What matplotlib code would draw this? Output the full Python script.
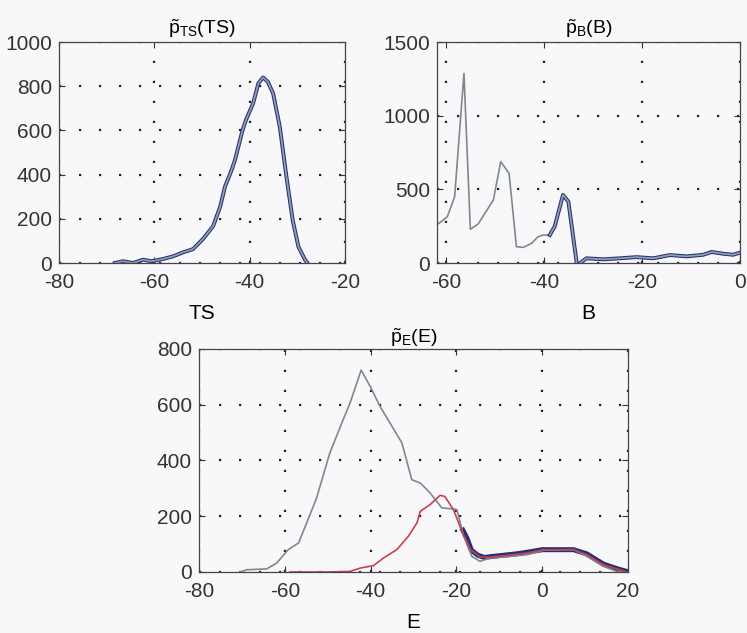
import matplotlib
matplotlib.use("Agg")
import matplotlib.pyplot as plt

plt.rcParams["font.family"] = ["Liberation Sans", "DejaVu Sans"]
plt.rcParams["mathtext.fontset"] = "custom"
plt.rcParams["mathtext.rm"] = "Liberation Sans"
plt.rcParams["mathtext.it"] = "Liberation Sans"
plt.rcParams["axes.unicode_minus"] = False

# Density estimate of TS
ts_x = [-68.3, -66.6, -64.5, -62.4, -60.6, -58.2, -56.1, -54.0, -51.9, -49.8, -47.7,
        -46.2, -45.2, -43.8, -43.1, -41.5, -40.8, -39.3, -38.2, -37.2, -36.2, -35.1,
        -33.7, -32.3, -31.0, -29.8, -28.4, -27.9]
ts_y = [0, 8, 0, 15, 8, 18, 30, 48, 63, 109, 166, 255, 345, 421, 466, 602, 647, 722,
        813, 840, 820, 768, 617, 390, 195, 74, 14, 0]

# Density of B: full histogram-like curve and the fitted part
b_x = [-61.6, -59.7, -58.2, -56.3, -55.0, -53.4, -50.3, -48.8, -47.1, -45.6, -44.2,
       -42.5, -41.2, -40.1, -38.8]
b_y = [265, 314, 450, 1287, 229, 265, 428, 688, 609, 111, 106, 134, 178, 190, 190]
bfit_x = [-38.8, -37.8, -36.1, -35.0, -33.3, -33.0, -31.3, -27.9, -24.5, -21.1, -17.7,
          -14.3, -10.9, -7.5, -5.8, -3.4, -1.4, 0.0]
bfit_y = [190, 247, 462, 416, 0, -10, 32, 25, 32, 40, 32, 54, 45, 56, 75, 63, 56, 70]

# Density of E: total, component and fitted tail
e_x = [-70.4, -68.9, -64.2, -61.9, -59.2, -56.8, -54.9, -52.6, -49.5, -46.7, -44.8,
       -42.2, -40.1, -37.8, -35.5, -32.7, -30.4, -28.4, -26.1, -23.4, -21.4, -19.9,
       -18.3, -16.4, -14.5, -12.2, -7.5, -3.6, 0.3, 7.3, 10.4, 14.3, 17.4, 19.7]
e_y = [0, 8, 11, 32, 80, 104, 176, 265, 427, 535, 606, 724, 666, 594, 535, 463, 331,
       319, 283, 230, 227, 224, 128, 56, 38, 50, 56, 62, 78, 80, 56, 20, 2, 0]
ered_x = [-58.8, -49.5, -44.8, -42.4, -39.3, -37.0, -33.9, -31.2, -29.2, -28.4, -26.1,
          -23.8, -22.7, -20.7, -18.7, -16.7, -14.5, -12.2, -7.5, -3.6, 0.3, 7.3, 10.4,
          14.3, 17.4, 19.7]
ered_y = [0, 0, 2, 14, 23, 50, 80, 128, 176, 218, 242, 275, 271, 224, 146, 80, 54, 53,
          61, 68, 80, 80, 62, 26, 11, 0]
efit_x = [-18.5, -17.5, -16.5, -15.0, -13.5, -12.0, -9.0, -6.0, -3.0, 0.0, 3.0, 7.3,
          10.4, 12.5, 14.3, 17.4, 19.7]
efit_y = [150, 120, 78, 60, 52, 55, 60, 65, 72, 80, 80, 80, 65, 45, 28, 12, 2]

BG = "#f8f8fa"
NAVY = "#262d78"
GRAY = "#7d8a8a"
LIGHT = "#8fa0ad"
RED = "#c8404f"
GRID = dict(color="#222222", linestyle=(0, (1, 8)), linewidth=1.6)
FS = 15


def style(ax, xlim, ylim, xticks, yticks):
    ax.set_facecolor(BG)
    ax.set_xlim(*xlim)
    ax.set_ylim(*ylim)
    ax.set_xticks(xticks)
    ax.set_yticks(yticks)
    ax.grid(True, **GRID)
    ax.tick_params(direction="in", length=4, width=0.8, colors="#333333",
                   labelsize=FS, top=True, right=True)
    ax.tick_params(axis="x", pad=7)
    ax.tick_params(axis="y", pad=5)
    for s in ax.spines.values():
        s.set_color("#444444")
        s.set_linewidth(0.9)


fig = plt.figure(figsize=(7.47, 6.33), dpi=100, facecolor=BG)

ax1 = fig.add_axes([0.079, 0.5845, 0.383, 0.349])
ax1.plot(ts_x, ts_y, color=NAVY, lw=2.8, solid_joinstyle="round")
ax1.plot(ts_x, ts_y, color=LIGHT, lw=1.3, solid_joinstyle="round")
style(ax1, (-80, -20), (0, 1000), [-80, -60, -40, -20], range(0, 1001, 200))
ax1.set_title(r"$\tilde{\mathrm{p}}_{\mathrm{TS}}\mathrm{(TS)}$", fontsize=14, pad=6)
ax1.set_xlabel("TS", fontsize=FS, labelpad=9)

ax2 = fig.add_axes([0.585, 0.5845, 0.4056, 0.349])
ax2.plot(b_x, b_y, color=GRAY, lw=1.2)
ax2.plot(bfit_x, bfit_y, color=NAVY, lw=2.8, solid_joinstyle="round")
ax2.plot(bfit_x, bfit_y, color=LIGHT, lw=1.3, solid_joinstyle="round")
style(ax2, (-61.8, 0), (0, 1500), [-60, -40, -20, 0], [0, 500, 1000, 1500])
ax2.set_title(r"$\tilde{\mathrm{p}}_{\mathrm{B}}\mathrm{(B)}$", fontsize=14, pad=6)
ax2.set_xlabel("B", fontsize=FS, labelpad=9)

ax3 = fig.add_axes([0.2664, 0.0964, 0.5743, 0.3523])
ax3.plot(efit_x, efit_y, color=NAVY, lw=3.6, solid_joinstyle="round")
ax3.plot(e_x, e_y, color=GRAY, lw=1.2)
ax3.plot(ered_x, ered_y, color=RED, lw=1.2)
style(ax3, (-80, 20), (0, 800), [-80, -60, -40, -20, 0, 20], range(0, 801, 200))
ax3.set_title(r"$\tilde{\mathrm{p}}_{\mathrm{E}}\mathrm{(E)}$", fontsize=14, pad=4)
ax3.set_xlabel("E", fontsize=FS, labelpad=9)

fig.savefig("out.png", dpi=100, facecolor=BG)
